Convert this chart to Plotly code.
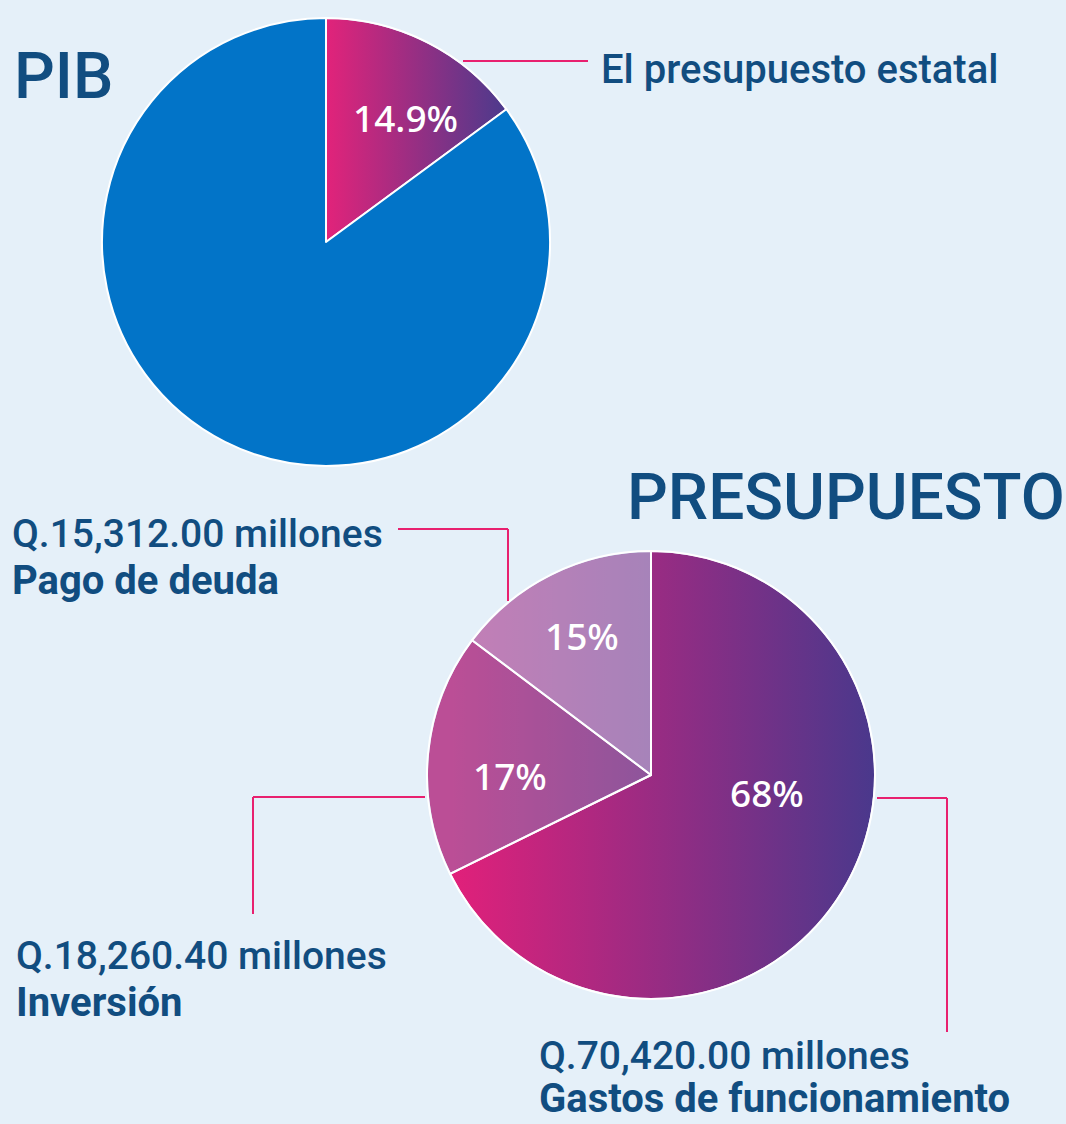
import base64
import plotly.graph_objects as go

# ---- data ----
pib_labels = ["El presupuesto estatal", "Resto del PIB"]
pib_values = [14.9, 85.1]
pib_text = ["14.9%", ""]

pres_labels = ["Gastos de funcionamiento", "Inversión", "Pago de deuda"]
pres_values = [70420.00, 18260.40, 15312.00]
pres_text = ["68%", "17%", "15%"]
pres_amounts = ["Q.70,420.00 millones", "Q.18,260.40 millones", "Q.15,312.00 millones"]

# ---- styles ----
BG = "#e5f0f9"
NAVY = "#114d80"
PINK = "#e8206f"
W, H = 1066, 1124

def px(x):
    return x / W

def py(y):
    return 1 - y / H

def gradient_disc(x1, x2, c1, c2):
    svg = (
        '<svg xmlns="http://www.w3.org/2000/svg" width="448" height="448" viewBox="0 0 448 448">'
        '<defs><linearGradient id="g" x1="%s" y1="0" x2="%s" y2="0">'
        '<stop offset="0" stop-color="%s"/><stop offset="1" stop-color="%s"/>'
        '</linearGradient></defs>'
        '<circle cx="224" cy="224" r="223" fill="url(#g)"/></svg>'
    ) % (x1, x2, c1, c2)
    return "data:image/svg+xml;base64," + base64.b64encode(svg.encode()).decode()

TOP_BOX = (102, 18, 448)   # left, top, size (px)
BOT_BOX = (427, 551, 448)

fig = go.Figure()

fig.add_trace(go.Pie(
    labels=pib_labels, values=pib_values, text=pib_text,
    textinfo="none", sort=False, direction="clockwise", rotation=0,
    marker=dict(colors=["rgba(0,0,0,0)", "#0274c8"], line=dict(color="white", width=2)),
    domain=dict(x=[px(TOP_BOX[0]), px(TOP_BOX[0] + TOP_BOX[2])],
                y=[py(TOP_BOX[1] + TOP_BOX[2]), py(TOP_BOX[1])]),
    showlegend=False, hoverinfo="label+percent",
))

fig.add_trace(go.Pie(
    labels=pres_labels, values=pres_values, text=pres_text,
    textinfo="none", sort=False, direction="clockwise", rotation=0,
    marker=dict(colors=["rgba(0,0,0,0)", "rgba(120,160,200,0.36)", "rgba(175,195,225,0.58)"],
                line=dict(color="white", width=2)),
    domain=dict(x=[px(BOT_BOX[0]), px(BOT_BOX[0] + BOT_BOX[2])],
                y=[py(BOT_BOX[1] + BOT_BOX[2]), py(BOT_BOX[1])]),
    showlegend=False, hoverinfo="label+value+percent",
))

images = []
for box, grad in [(TOP_BOX, gradient_disc("0.5", "0.9", "#e2237a", "#4d3a8c")),
                  (BOT_BOX, gradient_disc("0.05", "1", "#e2207a", "#4a388c"))]:
    images.append(dict(source=grad, xref="paper", yref="paper",
                       x=px(box[0]), y=py(box[1]), sizex=box[2] / W, sizey=box[2] / H,
                       xanchor="left", yanchor="top", sizing="stretch", layer="below"))

ann = []
def label(x, y, text, size=40, weight=500, anchor="left", yanchor="bottom",
          color=NAVY, family="Roboto"):
    ann.append(dict(x=px(x), y=py(y), xref="paper", yref="paper", text=text,
                    showarrow=False, xanchor=anchor, yanchor=yanchor,
                    font=dict(family=family, size=size, color=color, weight=weight)))

label(12, 116, "PIB", size=64, weight=500)
label(625, 537, "PRESUPUESTO", size=64, weight=500)
label(599, 95, pib_labels[0])

label(10, 559, pres_amounts[2], size=39)
label(10, 606, "<b>" + pres_labels[2] + "</b>", weight=700)
label(14, 981, pres_amounts[1], size=39)
label(14, 1028, "<b>" + pres_labels[1] + "</b>", weight=700)
label(537, 1081, pres_amounts[0], size=39)
label(537, 1124, "<b>" + pres_labels[0] + "</b>", weight=700)

# slice percentage labels
pct_pos = {"14.9%": (405, 117), "68%": (767, 792), "17%": (510, 775), "15%": (582, 635)}
for t in pib_text + pres_text:
    if t:
        label(pct_pos[t][0], pct_pos[t][1], t, size=37, weight=500, anchor="center",
              yanchor="middle", color="white", family="Noto Sans")

shapes = []
def seg(x0, y0, x1, y1):
    shapes.append(dict(type="line", xref="paper", yref="paper",
                       x0=px(x0), y0=py(y0), x1=px(x1), y1=py(y1),
                       line=dict(color=PINK, width=2)))

seg(463, 61, 588, 61)
seg(398, 529, 508, 529); seg(508, 529, 508, 601)
seg(425, 797, 253, 797); seg(253, 797, 253, 914)
seg(877, 798, 947, 798); seg(947, 798, 947, 1032)

fig.update_layout(
    width=W, height=H, margin=dict(l=0, r=0, t=0, b=0),
    paper_bgcolor=BG, plot_bgcolor=BG,
    annotations=ann, shapes=shapes, images=images,
)

fig.write_html("out.html")
